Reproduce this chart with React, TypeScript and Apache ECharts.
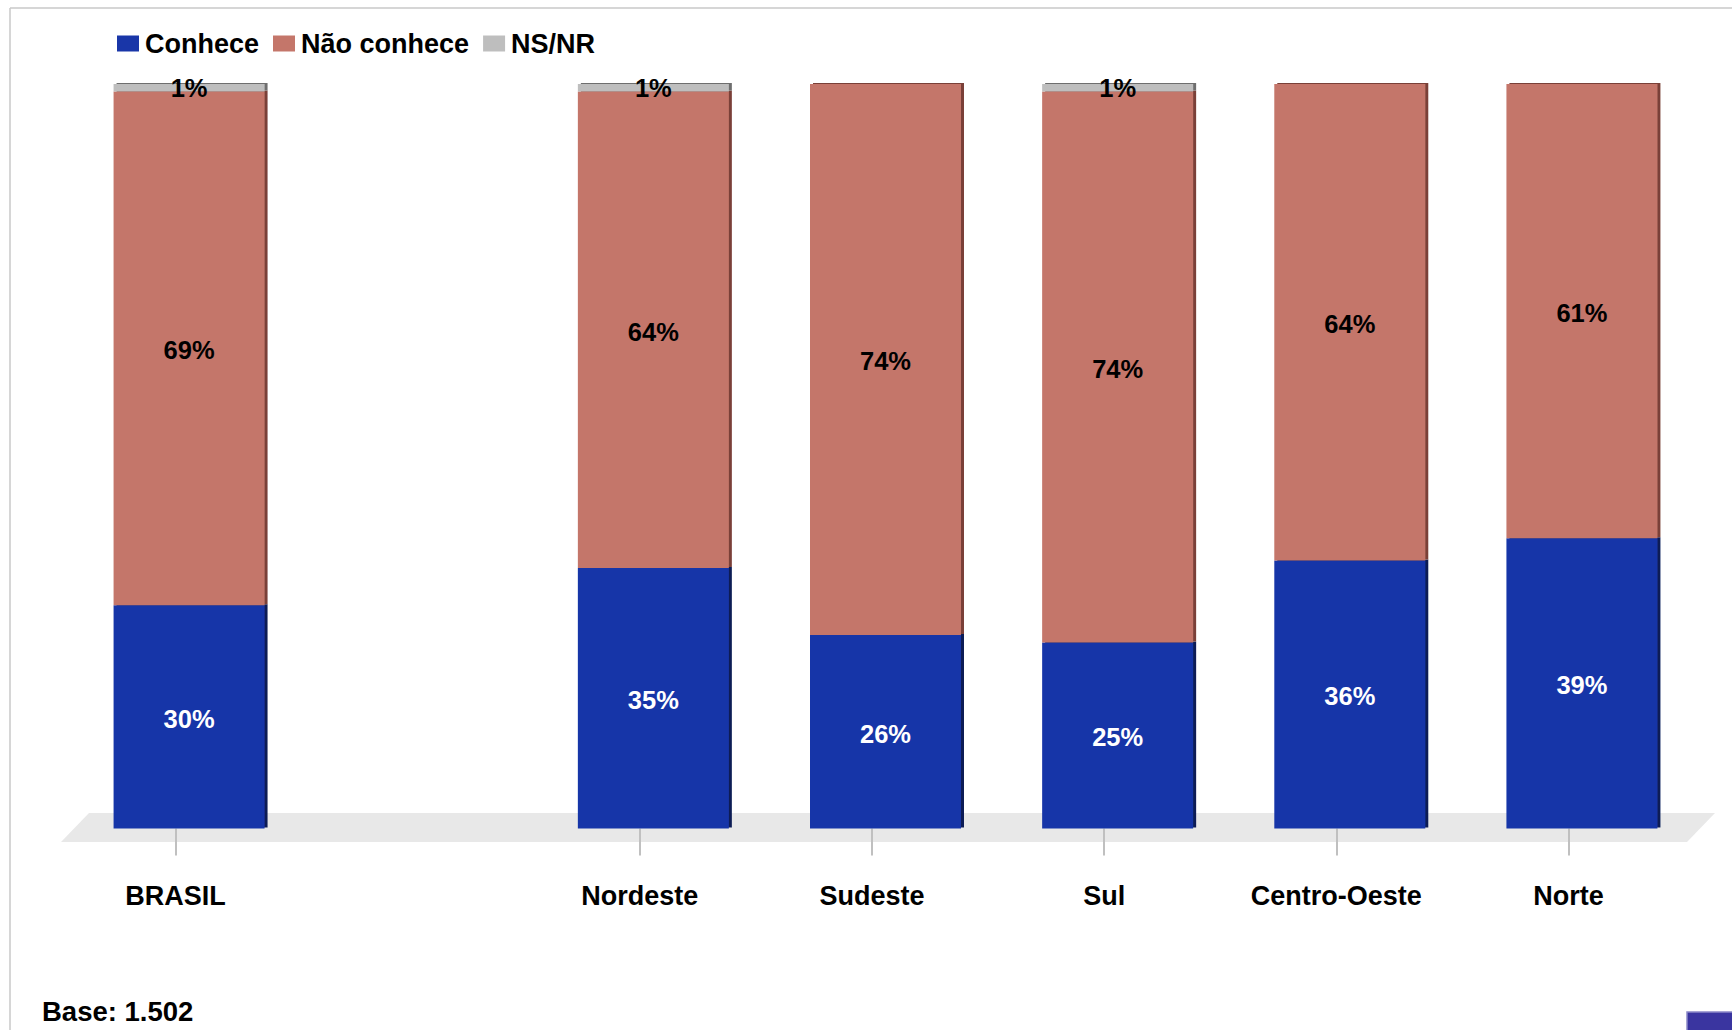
import React, { useEffect, useRef } from "react";
import * as echarts from "echarts";

const categories = ["BRASIL", "", "Nordeste", "Sudeste", "Sul", "Centro-Oeste", "Norte"];
const conhece = [30, null, 35, 26, 25, 36, 39];
const naoConhece = [69, null, 64, 74, 74, 64, 61];
const nsnr = [1, null, 1, 0, 1, 0, 0];
const seriesNames = ["Conhece", "Não conhece", "NS/NR"];
const baseText = "Base: 1.502";

const FONT = "'Liberation Sans', Arial, sans-serif";
const BLUE = "#1936A8";
const RED = "#C4766A";
const GRAY = "#BEBEBE";

export default function App() {
  const ref = useRef<HTMLDivElement>(null);
  useEffect(() => {
    if (!ref.current) return;
    const chart = echarts.init(ref.current, null, { renderer: "svg" });
    const gridTop = 84;
    const gridH = 744.5;
    const gridW = 1625;
    const gridLeft0 = 59.5;
    const shift = 13.5;
    const mkLabel = (color: string) => ({
      show: true,
      position: "inside",
      color,
      fontFamily: FONT,
      fontWeight: "bold",
      fontSize: 25.5,
      offset: [0, 2],
      formatter: (p: any) => (p.value ? p.value + "%" : ""),
    });
    const mkStyle = (color: string, shadow: string) => ({
      color,
      shadowColor: shadow,
      shadowBlur: 0,
      shadowOffsetX: 3,
      shadowOffsetY: -1,
    });
    const option: any = {
      animation: false,
      backgroundColor: "#ffffff",
      legend: {
        data: seriesNames,
        left: 112,
        top: 25,
        itemWidth: 22,
        itemHeight: 16,
        itemGap: 14,
        icon: "rect",
        textStyle: { fontFamily: FONT, fontWeight: "bold", fontSize: 27, color: "#000", padding: [0, 0, 0, 1] },
      },
      graphic: [
        { type: "line", shape: { x1: 10, y1: 8, x2: 1732, y2: 8 }, style: { stroke: "#C8C8C8", lineWidth: 1.5 }, z: 0 },
        { type: "line", shape: { x1: 10, y1: 8, x2: 10, y2: 1030 }, style: { stroke: "#C8C8C8", lineWidth: 1.5 }, z: 0 },
        {
          type: "polygon",
          shape: { points: [[61, 842], [89, 813], [1715, 813], [1687, 842]] },
          style: { fill: "#E8E8E8" },
          z: 0,
        },
        { type: "rect", shape: { x: 1687, y: 1012, width: 50, height: 25 }, style: { fill: "#3A35A0", stroke: "#8A88C8", lineWidth: 1.5 }, z: 0 },
        {
          type: "text",
          left: 42,
          top: 997,
          style: { text: baseText, fontFamily: FONT, fontWeight: "bold", fontSize: 27.5, fill: "#000" },
        },
      ],
      grid: [
        { left: gridLeft0, top: gridTop, width: gridW, height: gridH },
        { left: gridLeft0 + shift, top: gridTop, width: gridW, height: gridH },
      ],
      xAxis: [
        {
          gridIndex: 0,
          type: "category",
          data: categories,
          position: "bottom",
          offset: 13.5,
          axisLine: { show: false },
          axisTick: {
            show: true,
            alignWithLabel: true,
            length: 27,
            lineStyle: { color: "#C0C0C0", width: 2 },
            interval: (i: number, v: string) => v !== "",
          },
          axisLabel: {
            interval: 0,
            margin: 40,
            color: "#000",
            fontFamily: FONT,
            fontWeight: "bold",
            fontSize: 27,
          },
        },
        {
          gridIndex: 1,
          type: "category",
          data: categories,
          show: false,
        },
      ],
      yAxis: [
        { gridIndex: 0, type: "value", min: 0, max: 100, show: false },
        { gridIndex: 1, type: "value", min: 0, max: 100, show: false },
      ],
      series: [
        {
          name: seriesNames[0],
          type: "bar",
          stack: "t",
          xAxisIndex: 1,
          yAxisIndex: 1,
          barWidth: 151,
          data: conhece,
          itemStyle: mkStyle(BLUE, "#0E1A55"),
          label: mkLabel("#ffffff"),
          z: 3,
        },
        {
          name: seriesNames[1],
          type: "bar",
          stack: "t",
          xAxisIndex: 1,
          yAxisIndex: 1,
          barWidth: 151,
          data: naoConhece,
          itemStyle: mkStyle(RED, "#7A3F38"),
          label: mkLabel("#000000"),
          z: 3,
        },
        {
          name: seriesNames[2],
          type: "bar",
          stack: "t",
          xAxisIndex: 1,
          yAxisIndex: 1,
          barWidth: 151,
          data: nsnr,
          itemStyle: mkStyle(GRAY, "#6E6E6E"),
          label: { ...mkLabel("#000000"), offset: [0, 0] },
          z: 3,
        },
      ],
      color: [BLUE, RED, GRAY],
    };
    chart.setOption(option);
    return () => chart.dispose();
  }, []);
  return <div ref={ref} style={{ width: 1732, height: 1030, position: "absolute", left: 0, top: 0 }} />;
}
